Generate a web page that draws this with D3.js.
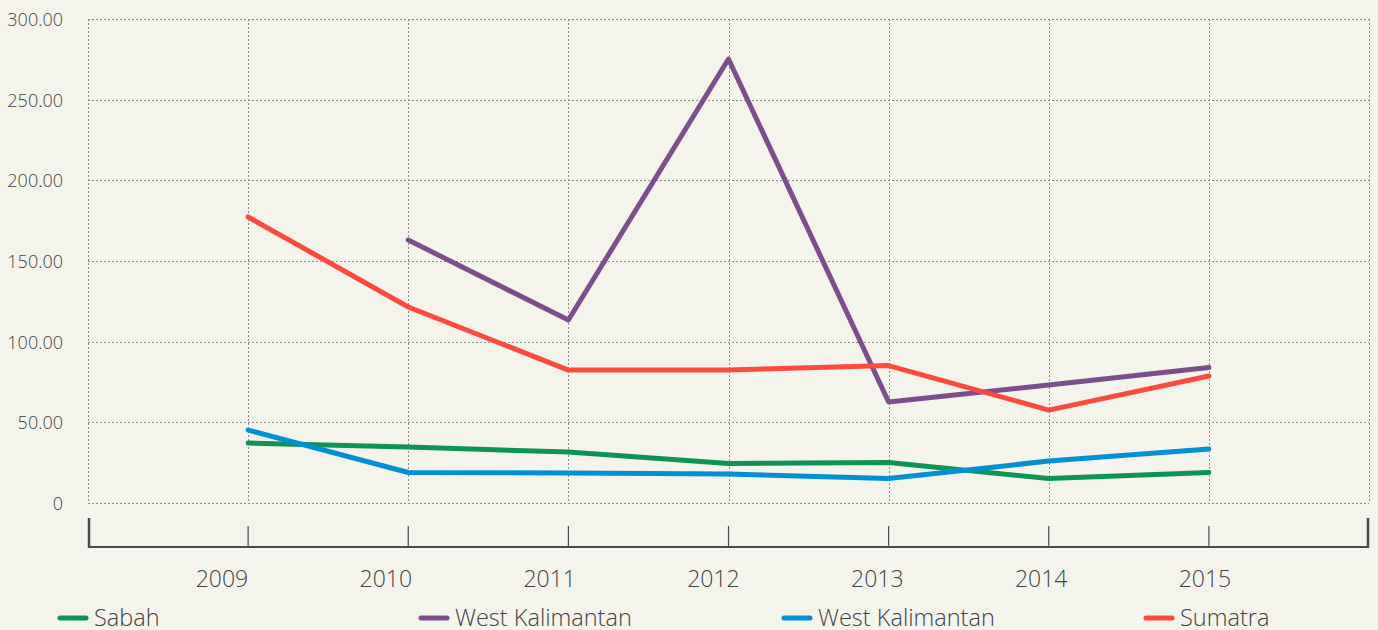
<!DOCTYPE html>
<html>
<head>
<meta charset="utf-8">
<script src="https://cdn.jsdelivr.net/npm/d3@7/dist/d3.min.js"></script>
<style>
  html, body { margin: 0; padding: 0; background: #f5f4ec; }
  svg { display: block; font-family: "Open Sans", Lato, sans-serif; font-weight: 300; }
</style>
</head>
<body>
<svg id="chart" width="1378" height="630"></svg>
<script>
const years = [2009, 2010, 2011, 2012, 2013, 2014, 2015];
const yTicks = [0, 50, 100, 150, 200, 250, 300];

const sabah = [37.2, 34.7, 31.6, 24.5, 25.1, 15.2, 18.9];
const westKalimantanA = [null, 163.0, 113.4, 275.2, 62.6, 73.1, 84.0];
const westKalimantanB = [45.2, 18.9, 18.6, 18.0, 15.2, 26.0, 33.5];
const sumatra = [177.3, 121.5, 82.4, 82.4, 85.2, 57.6, 78.7];

const seriesNames = ["Sabah", "West Kalimantan", "West Kalimantan", "Sumatra"];
const seriesColors = ["#0d9455", "#7a4f8b", "#0091d5", "#fb4b40"];
const seriesValues = [sabah, westKalimantanA, westKalimantanB, sumatra];

(function draw() {
  const svg = d3.select("#chart");
  const plotLeft = 88, plotRight = 1369, plotTop = 19, plotBottom = 503;

  const x = d3.scaleLinear().domain([2008, 2016]).range([plotLeft, plotRight]);
  const y = d3.scaleLinear().domain([0, 300]).range([plotBottom, plotTop]);
  // year captions sit on their own slightly wider spacing under the axis
  const xLabel = d3.scaleLinear().domain([2009, 2015]).range([222, 1205]);

  const grid = svg.append("g")
    .attr("stroke", "#8d8d88").attr("stroke-width", 1)
    .attr("stroke-dasharray", "2,2").attr("shape-rendering", "crispEdges");

  // horizontal gridlines
  grid.selectAll("line.h").data(yTicks).join("line")
    .attr("x1", plotLeft).attr("x2", plotRight)
    .attr("y1", d => Math.round(y(d)) + 0.5).attr("y2", d => Math.round(y(d)) + 0.5);

  // vertical gridlines: plot edges plus each year
  const vLines = [2008].concat(years, [2016]);
  grid.selectAll("line.v").data(vLines).join("line")
    .attr("x1", d => Math.round(x(d)) + 0.5).attr("x2", d => Math.round(x(d)) + 0.5)
    .attr("y1", plotTop).attr("y2", plotBottom);

  // y tick labels
  svg.append("g").selectAll("text").data(yTicks).join("text")
    .attr("x", 63).attr("y", d => y(d) + 7)
    .attr("text-anchor", "end").attr("fill", "#424242").attr("font-size", 18)
    .text(d => d === 0 ? "0" : d3.format(".2f")(d));

  // bottom axis
  const axis = svg.append("g").attr("stroke", "#4a4a4a").attr("fill", "none");
  axis.append("line").attr("x1", plotLeft).attr("x2", plotRight).attr("y1", 547).attr("y2", 547).attr("stroke-width", 2);
  axis.append("line").attr("x1", plotLeft + 1).attr("x2", plotLeft + 1).attr("y1", 518).attr("y2", 548).attr("stroke-width", 2.5);
  axis.append("line").attr("x1", plotRight - 1).attr("x2", plotRight - 1).attr("y1", 518).attr("y2", 548).attr("stroke-width", 2.5);
  axis.selectAll("line.t").data(years).join("line")
    .attr("x1", d => x(d)).attr("x2", d => x(d))
    .attr("y1", 526).attr("y2", 547).attr("stroke-width", 1.2);

  svg.append("g").selectAll("text").data(years).join("text")
    .attr("x", d => xLabel(d)).attr("y", 587)
    .attr("text-anchor", "middle").attr("fill", "#424242").attr("font-size", 23)
    .text(d => d);

  // series lines
  const line = d3.line()
    .defined(d => d[1] !== null)
    .x(d => x(d[0])).y(d => y(d[1]));

  seriesValues.forEach((vals, i) => {
    svg.append("path")
      .datum(years.map((yr, j) => [yr, vals[j]]))
      .attr("fill", "none").attr("stroke", seriesColors[i])
      .attr("stroke-width", 5).attr("stroke-linejoin", "round").attr("stroke-linecap", "round")
      .attr("d", line);
  });

  // legend
  const legendX = [60, 421, 784, 1146];
  const legend = svg.append("g").selectAll("g").data(seriesNames).join("g")
    .attr("transform", (d, i) => `translate(${legendX[i]},618)`);
  legend.append("line").attr("x1", 0).attr("x2", 26).attr("y1", 0).attr("y2", 0)
    .attr("stroke", (d, i) => seriesColors[i]).attr("stroke-width", 5).attr("stroke-linecap", "round");
  legend.append("text").attr("x", 34).attr("y", 8)
    .attr("fill", "#424242").attr("font-size", 23.5).text(d => d);
})();
</script>
</body>
</html>
